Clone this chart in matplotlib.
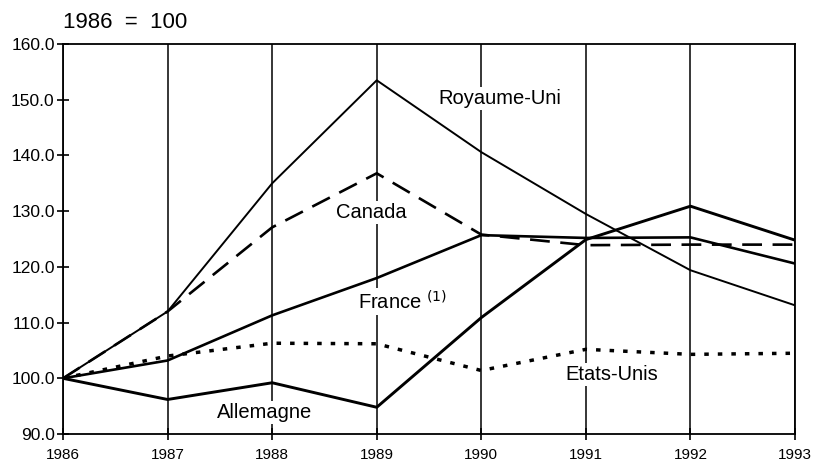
import matplotlib.pyplot as plt

plt.rcParams['font.family'] = ['Liberation Sans', 'DejaVu Sans']

# Indices 1986 = 100
years = [1986, 1987, 1988, 1989, 1990, 1991, 1992, 1993]
royaume_uni = [100.0, 112.0, 135.0, 153.5, 140.6, 129.5, 119.4, 113.1]
canada = [100.0, 112.0, 127.1, 136.8, 125.8, 123.9, 124.0, 124.0]
france = [100.0, 103.2, 111.3, 118.0, 125.7, 125.2, 125.3, 120.6]
allemagne = [100.0, 96.2, 99.2, 94.8, 110.9, 124.9, 130.9, 124.8]
etats_unis = [100.0, 104.0, 106.3, 106.2, 101.4, 105.2, 104.3, 104.5]

y_ticks = [90, 100, 110, 120, 130, 140, 150, 160]

fig = plt.figure(figsize=(8.14, 4.69), dpi=100)
ax = fig.add_axes([0.0774, 0.0746, 0.8993, 0.8314])

ax.plot(years, royaume_uni, color='black', linewidth=1.4)
ax.plot(years, canada, color='black', linewidth=1.9, linestyle=(0, (7.5, 4)))
ax.plot(years, france, color='black', linewidth=1.9)
ax.plot(years, allemagne, color='black', linewidth=2.1)
ax.plot(years, etats_unis, color='black', linewidth=2.5, linestyle=(0, (1.3, 2.6)))

ax.set_xlim(1986, 1993)
ax.set_ylim(90, 160)
ax.set_xticks(years)
ax.set_yticks(y_ticks)
ax.set_yticklabels([f"{v:.1f}" for v in y_ticks])
ax.tick_params(axis='both', direction='inout', length=8, width=1.2)
ax.tick_params(axis='x', pad=6, labelsize=11)
ax.tick_params(axis='y', pad=2, labelsize=12.5)

# vertical lines at each year
ax.grid(axis='x', color='black', linewidth=1.1)
for s in ax.spines.values():
    s.set_linewidth(1.3)

# series labels (white box cuts the year lines like in the original)
box = dict(facecolor='white', edgecolor='none', pad=1.5)
ax.text(1990.18, 150.3, "Royaume-Uni", fontsize=14.5, ha='center', va='center', bbox=box)
ax.text(1988.95, 129.8, "Canada", fontsize=14.5, ha='center', va='center', bbox=box)
ax.text(1989.25, 113.8, "France $^{(1)}$", fontsize=14.5, ha='center', va='center', bbox=box)
ax.text(1987.93, 93.9, "Allemagne", fontsize=14.5, ha='center', va='center', bbox=box)
ax.text(1991.25, 100.6, "Etats-Unis", fontsize=14.5, ha='center', va='center', bbox=box)

fig.text(0.0774, 0.953, "1986  =  100", fontsize=16, ha='left', va='center')

fig.savefig("out.png", dpi=100)
